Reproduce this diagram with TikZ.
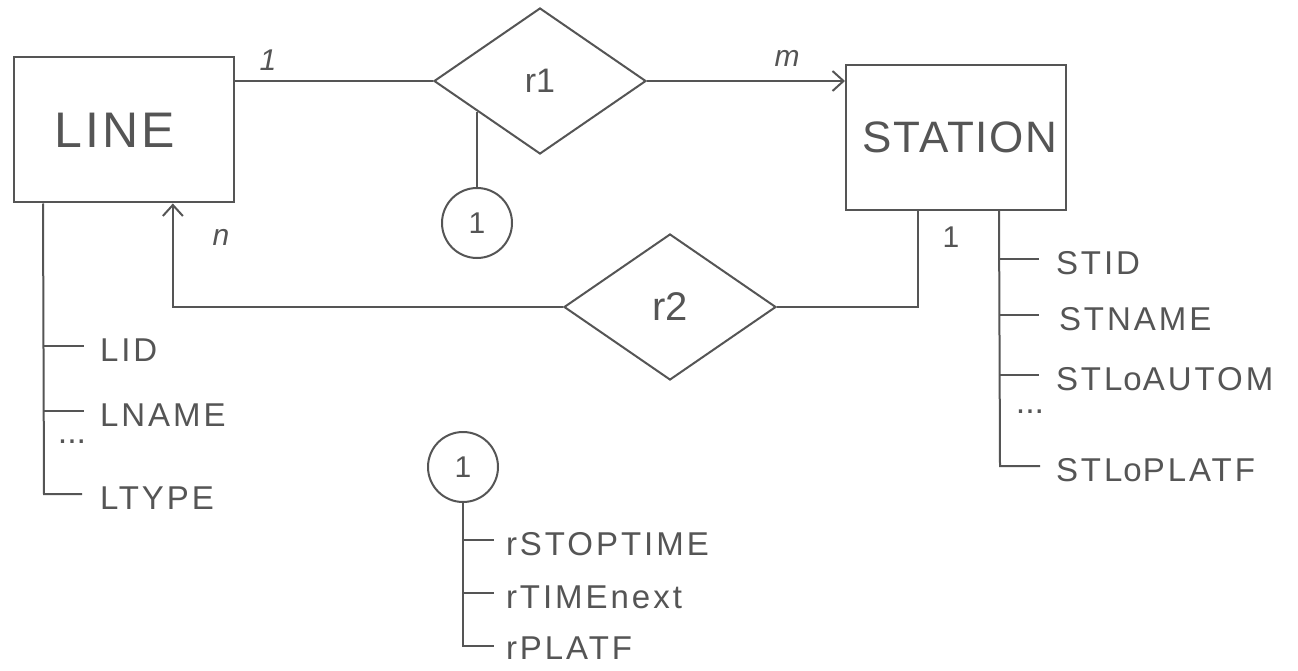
\documentclass[tikz,border=0pt]{standalone}
\usepackage{fontspec}
\setmainfont{Liberation Sans}
\usetikzlibrary{shapes.geometric,arrows.meta,calc}
\definecolor{ink}{HTML}{555555}
\begin{document}
\begin{tikzpicture}[x=1pt,y=-1pt,line width=2pt,color=ink,
  entity/.style={draw,rectangle,minimum width=220pt,minimum height=145pt,inner sep=0pt,font=\fontsize{44}{50}\selectfont\addfontfeatures{LetterSpace=4}},
  rel/.style={draw,diamond,minimum width=212pt,minimum height=146pt,inner sep=0pt,font=\fontsize{34}{40}\selectfont},
  attrc/.style={draw,circle,minimum size=70pt,inner sep=0pt,font=\fontsize{30}{34}\selectfont},
  attr/.style={anchor=west,inner sep=0pt,font=\fontsize{33}{40}\selectfont\addfontfeatures{LetterSpace=9}},
  card/.style={inner sep=0pt,font=\itshape\fontsize{30}{34}\selectfont},
  dots/.style={inner sep=0pt,font=\fontsize{34}{38}\selectfont},
  arr/.style={-{Straight Barb[length=11pt,width=20pt,line width=2pt]}}]
\useasboundingbox (0,0) rectangle (1298,671);
\fill[white] (0,0) rectangle (1298,671);

% entities
\node[entity,font=\fontsize{50}{56}\selectfont\addfontfeatures{LetterSpace=6}] (LINE) at (124,130) {\hspace*{-18pt}LINE};
\node[entity] (STATION) at (956,137.5) {\hspace*{8pt}STATION};

% relationships
\node[rel] (r1) at (540,81) {r1};
\node[rel,font=\fontsize{40}{46}\selectfont] (r2) at (670,307) {r2};

% relationship attribute circles
\node[attrc] (c1) at (477,223) {1};
\node[attrc] (c2) at (463,467) {1};

% connectors
\draw (LINE.east |- r1.west) -- (r1.west);
\draw[arr] (r1.east) -- (STATION.west |- r1.east);
\coordinate (r1p) at ($(r1.west)!0.42!(r1.south)$);
\draw (c1.north) -- (c1.north |- r1p);
\coordinate (la) at ($(LINE.south west)!0.72!(LINE.south east)$);
\draw[arr] (r2.west) -| (la);
\coordinate (sa) at ($(STATION.south west)!0.33!(STATION.south east)$);
\draw (r2.east) -| (sa);

% cardinalities
\node[card] (k1) at (268,60) {1};
\node[card] (km) at (787,58) {m};
\node[card] (kn) at (221,237) {n};
\node[card,font=\fontsize{30}{34}\selectfont] (k2) at (951,237) {1};

% LINE attributes
\coordinate (lt) at ($(LINE.south west)+(30,0)$);
\coordinate (l1) at (44,346);
\coordinate (l2) at (44,411);
\coordinate (l3) at (44,494);
\draw (lt) -- (l3) -- ++(38,0);
\draw (l1) -- ++(40,0);
\draw (l2) -- ++(40,0);
\node[attr] (LID) at (99,350) {LID};
\node[attr] (LNAME) at (99,415) {LNAME};
\node[dots] (ldots) at (72,442) {...};
\node[attr] (LTYPE) at (99,498) {LTYPE};

% STATION attributes
\coordinate (st) at ($(STATION.south west)+(154,0)$);
\coordinate (s1) at (1000,259);
\coordinate (s2) at (1000,315);
\coordinate (s3) at (1000,375);
\coordinate (s4) at (1000,466);
\draw (st) -- (s4) -- ++(40,0);
\draw (s1) -- ++(39,0);
\draw (s2) -- ++(39,0);
\draw (s3) -- ++(39,0);
\node[attr] (STID) at (1055,263) {STID};
\node[attr] (STNAME) at (1058,319) {STNAME};
\node[attr] (STLoAUTOM) at (1055,379) {STL\kern1pt o\kern1pt AUTOM};
\node[dots] (sdots) at (1030,412) {...};
\node[attr] (STLoPLATF) at (1055,470) {STL\kern1pt o\kern1pt PLATF};

% r1 attributes
\coordinate (c2b) at (c2.south |- 0,646);
\coordinate (t1) at (c2.south |- 0,540);
\coordinate (t2) at (c2.south |- 0,593);
\draw (c2.south) -- (c2b) -- ++(31,0);
\draw (t1) -- ++(31,0);
\draw (t2) -- ++(31,0);
\node[attr] (rST) at (505,544) {rSTOPTIME};
\node[attr] (rTN) at (505,597) {rTIMEnext};
\node[attr] (rPL) at (505,648) {rPLATF};
\end{tikzpicture}
\end{document}
